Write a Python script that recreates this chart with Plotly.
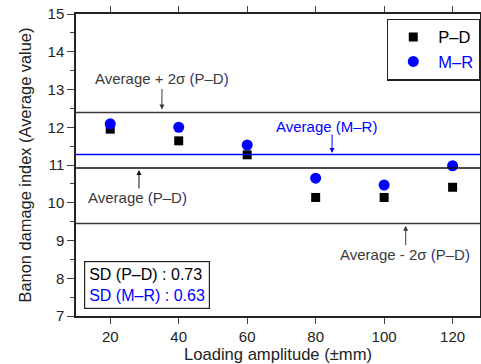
import plotly.graph_objects as go

amplitude = [20, 40, 60, 80, 100, 120]
pd_values = [11.95, 11.64, 11.27, 10.14, 10.14, 10.41]
mr_values = [12.09, 12.00, 11.53, 10.65, 10.47, 10.98]

pd_avg = 10.92
mr_avg = 11.28
pd_sd = 0.73
mr_sd = 0.63
pd_upper = 12.39
pd_lower = 9.45

FONT = "Liberation Sans, Arial, sans-serif"
GRAY = "#3a3a3a"
NAVY = "#2a2a9a"
BLUE = "#0000ff"

fig = go.Figure()
fig.add_trace(go.Scatter(
    x=amplitude, y=pd_values, mode="markers", name="P\u2013D",
    marker=dict(symbol="square", size=9, color="black")))
fig.add_trace(go.Scatter(
    x=amplitude, y=mr_values, mode="markers",
    name="<span style='color:#0000ff'>M\u2013R</span>",
    marker=dict(symbol="circle", size=11, color=BLUE)))

for yv, col in [(pd_upper, GRAY), (pd_avg, "#111111"), (pd_lower, GRAY), (mr_avg, BLUE)]:
    fig.add_shape(type="line", xref="paper", x0=0, x1=1, yref="y", y0=yv, y1=yv,
                  line=dict(color=col, width=1.5))

def arrow(x, y, ay, color):
    fig.add_annotation(x=x, y=y, ax=0, ay=ay, text="", showarrow=True,
                       arrowhead=2, arrowsize=1, arrowwidth=1, arrowcolor=color,
                       standoff=0, startstandoff=0)

def label(x, y, text):
    fig.add_annotation(x=x, y=y, text=text, showarrow=False,
                       font=dict(family=FONT, size=15, color=GRAY))

pdtag = ("<span style='color:%s'>(</span>P\u2013D<span style='color:%s'>)</span>" % (NAVY, NAVY))

arrow(35.1, pd_upper + 0.08, -22, GRAY)
label(35.1, 13.28, "Average + 2\u03c3 " + pdtag)

arrow(84.8, mr_avg + 0.04, -20, BLUE)
fig.add_annotation(x=83.3, y=12.03, text="Average (M\u2013R)", showarrow=False,
                   font=dict(family=FONT, size=15, color=BLUE))

arrow(28.4, pd_avg - 0.05, 20, "#111111")
label(28.1, 10.13, "Average " + pdtag)

arrow(106.3, pd_lower - 0.06, 21, GRAY)
label(106.1, 8.64, "Average - 2\u03c3 " + pdtag)

fig.add_annotation(
    x=30.7, y=7.82, showarrow=False, align="left",
    text=("SD (P\u2013D) : %.2f<br><span style='color:#0000ff'>SD (M\u2013R) : %.2f</span>"
          % (pd_sd, mr_sd)),
    font=dict(family=FONT, size=16, color="black"),
    bordercolor="#222222", borderwidth=1.2, borderpad=4, bgcolor="white")

fig.update_layout(
    width=481, height=364,
    margin=dict(l=76, r=1, t=14, b=48, autoexpand=False),
    paper_bgcolor="white", plot_bgcolor="white",
    font=dict(family=FONT, size=15, color="#222222"),
    showlegend=True,
    legend=dict(x=0.77, y=0.985, xanchor="left", yanchor="top",
                bordercolor="#222222", borderwidth=1.2, bgcolor="white",
                font=dict(family=FONT, size=16.5, color="black"),
                itemsizing="trace", itemwidth=40,
                entrywidth=50, entrywidthmode="pixels"),
    xaxis=dict(range=[10, 128], tickvals=amplitude, ticks="outside", ticklen=6,
               tickwidth=1.2, showline=True, linecolor="#222222", linewidth=1.5,
               mirror="ticks", showgrid=False, zeroline=False, automargin=False,
               title=dict(text="Loading amplitude (\u00b1mm)", font=dict(size=16.6), standoff=7),
               tickfont=dict(size=15)),
    yaxis=dict(range=[7, 15], dtick=1, ticks="outside", ticklen=7, tickwidth=1.2,
               minor=dict(dtick=0.5, ticks="outside", ticklen=4, tickwidth=1.2),
               showline=True, linecolor="#222222", linewidth=1.5, mirror=True,
               showgrid=False, zeroline=False, automargin=False,
               title=dict(text="Banon damage index (Average value)", font=dict(size=16.4), standoff=12),
               tickfont=dict(size=15)),
)

fig.write_html("out.html", config={"displayModeBar": False},
               post_script="document.body.style.margin='0';document.body.style.overflow='hidden';")
